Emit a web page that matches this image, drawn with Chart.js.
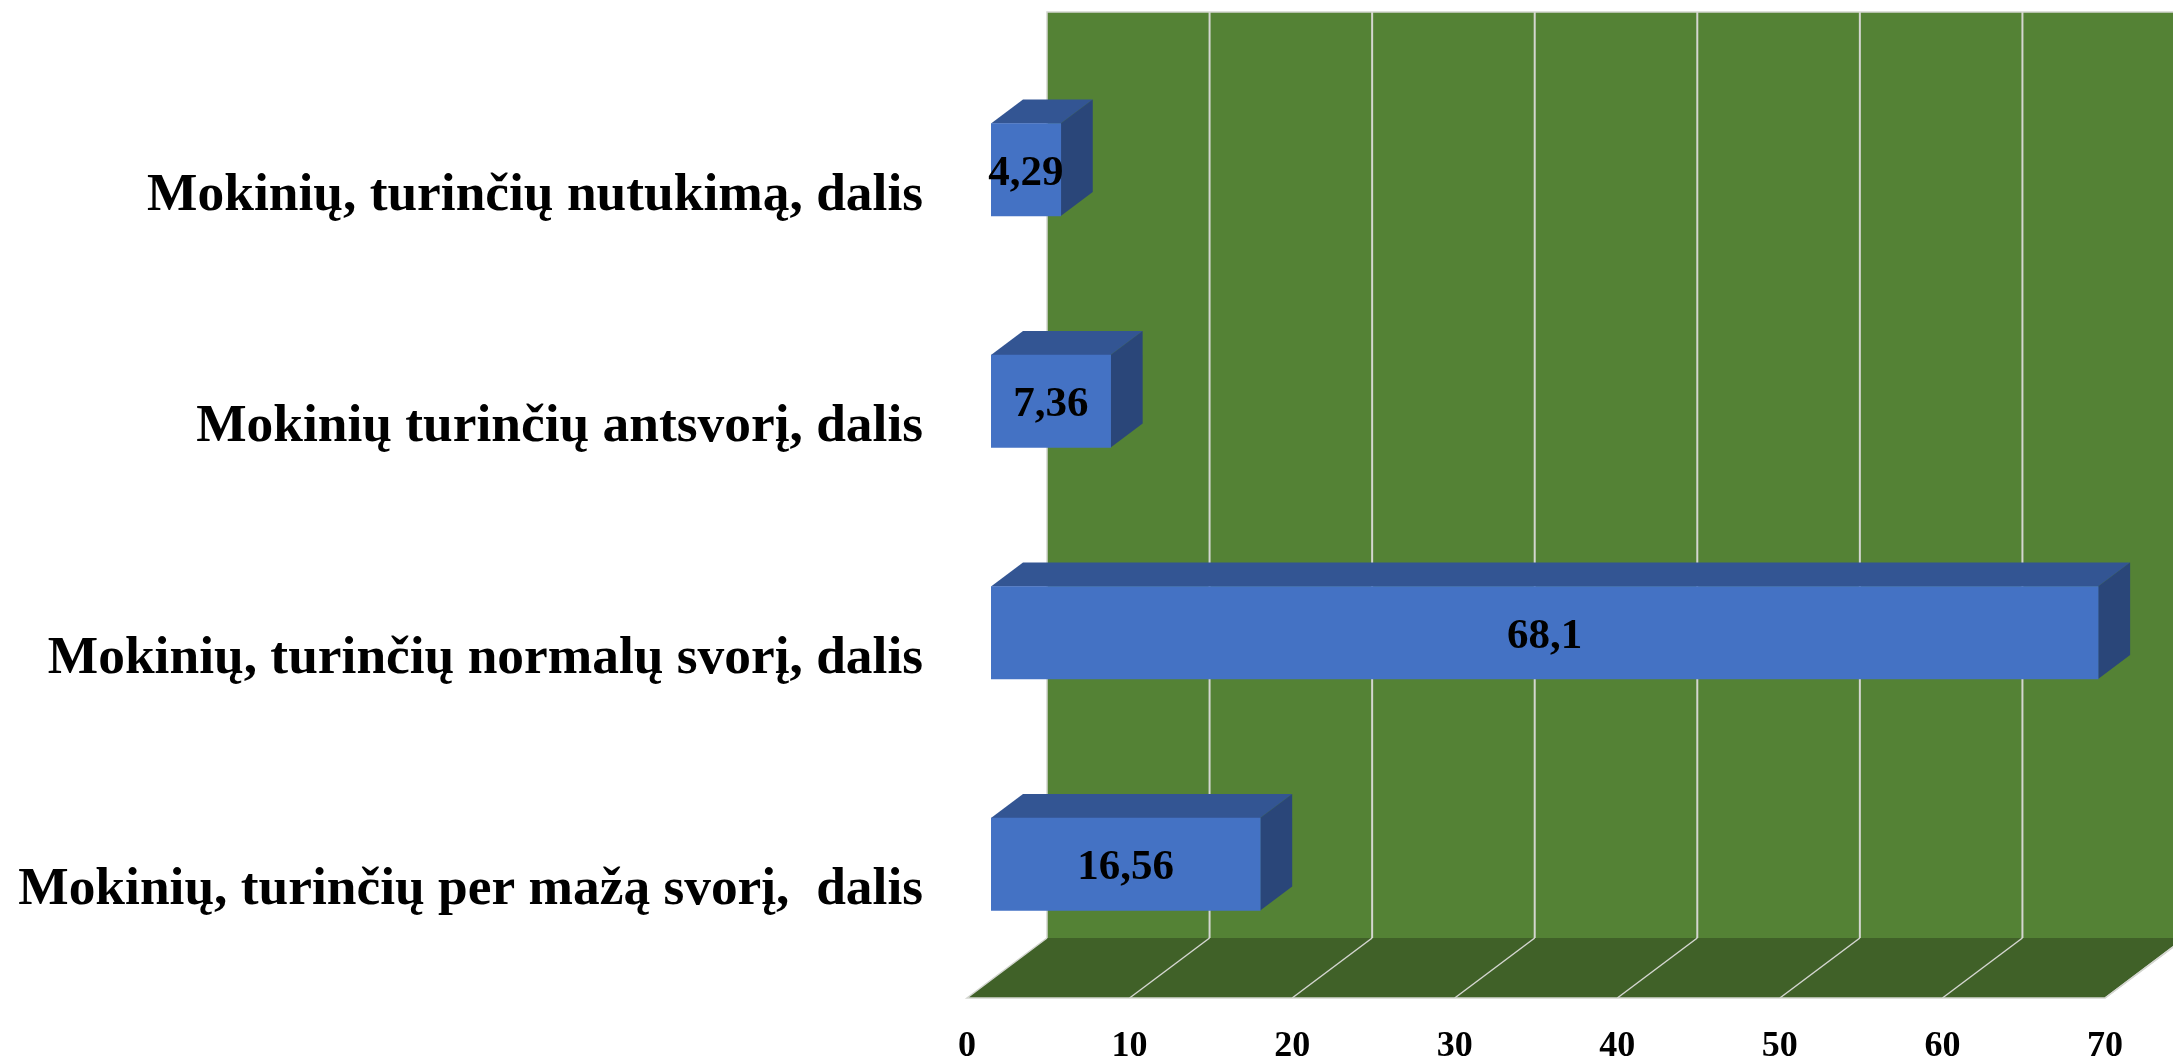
<!DOCTYPE html>
<html lang="lt">
<head>
<meta charset="utf-8">
<title>Mokinių svoris</title>
<script src="https://cdn.jsdelivr.net/npm/chart.js@4"></script>
<style>
  html, body { margin: 0; padding: 0; background: #fff; overflow: hidden; }
  #wrap { width: 2173px; height: 1059px; position: relative; }
</style>
</head>
<body>
<div id="wrap"><canvas id="svorisChart"></canvas></div>
<script>
const categories = [
  "Mokinių, turinčių nutukimą, dalis",
  "Mokinių turinčių antsvorį, dalis",
  "Mokinių, turinčių normalų svorį, dalis",
  "Mokinių, turinčių per mažą svorį,  dalis",
];
const values = [4.29, 7.36, 68.1, 16.56];
const xMin = 0;
const xMax = 70;
const xStep = 10;

// Spalvos
const wallColor = "#548235";
const floorColor = "#406128";
const gridColor = "#d4d6d0";
const barFront = "#4472c4";
const barTop = "#335593";
const barSide = "#2a4679";

// Imitacija 3D: grindys ir siena, stulpelių gylis
const floorShiftX = 24; // kiek grindų priekis į kairę nuo stulpelio pradžios
const floorFrontY = 998;
const floorBackY = 938;
const wallTopY = 12;
const floorDepthX = 80;
const barDepthX = 32;
const barDepthY = 24;

// Ašių kraštų paraštės trukdo tiksliai išdėstyti braižymo sritį
function noScalePadding(scale) {
  scale.paddingLeft = 0;
  scale.paddingRight = 0;
  scale.paddingTop = 0;
  scale.paddingBottom = 0;
}

const fake3d = {
  id: "fake3d",
  beforeDatasetsDraw(chart) {
    const ctx = chart.ctx;
    const x = chart.scales.x;
    const front0 = x.getPixelForValue(xMin) - floorShiftX;
    const frontEnd = x.getPixelForValue(xMax) - floorShiftX;
    const back0 = front0 + floorDepthX;
    const backEnd = frontEnd + floorDepthX;

    ctx.save();
    // siena
    ctx.fillStyle = wallColor;
    ctx.fillRect(back0, wallTopY, backEnd - back0, floorBackY - wallTopY);
    ctx.strokeStyle = gridColor;
    ctx.lineWidth = 1.5;
    ctx.beginPath();
    ctx.moveTo(back0, floorBackY);
    ctx.lineTo(back0, wallTopY);
    ctx.lineTo(backEnd, wallTopY);
    ctx.stroke();

    // grindys
    ctx.fillStyle = floorColor;
    ctx.beginPath();
    ctx.moveTo(back0, floorBackY);
    ctx.lineTo(backEnd, floorBackY);
    ctx.lineTo(frontEnd, floorFrontY);
    ctx.lineTo(front0, floorFrontY);
    ctx.closePath();
    ctx.fill();
    ctx.beginPath();
    ctx.moveTo(backEnd, floorBackY);
    ctx.lineTo(frontEnd, floorFrontY);
    ctx.lineTo(front0, floorFrontY);
    ctx.lineTo(back0, floorBackY);
    ctx.stroke();

    // tinklelis
    x.ticks.forEach(function (tick) {
      if (tick.value === xMin) return;
      const px = x.getPixelForValue(tick.value) - floorShiftX;
      ctx.lineWidth = 1.5;
      ctx.beginPath();
      ctx.moveTo(px, floorFrontY);
      ctx.lineTo(px + floorDepthX, floorBackY);
      ctx.stroke();
      ctx.lineWidth = 2;
      ctx.beginPath();
      ctx.moveTo(px + floorDepthX, floorBackY);
      ctx.lineTo(px + floorDepthX, wallTopY);
      ctx.stroke();
    });

    // stulpelių viršus ir šonas
    chart.getDatasetMeta(0).data.forEach(function (bar) {
      const top = bar.y - bar.height / 2;
      const bottom = bar.y + bar.height / 2;
      ctx.fillStyle = barTop;
      ctx.beginPath();
      ctx.moveTo(bar.base, top);
      ctx.lineTo(bar.base + barDepthX, top - barDepthY);
      ctx.lineTo(bar.x + barDepthX, top - barDepthY);
      ctx.lineTo(bar.x, top);
      ctx.closePath();
      ctx.fill();
      ctx.fillStyle = barSide;
      ctx.beginPath();
      ctx.moveTo(bar.x, top);
      ctx.lineTo(bar.x + barDepthX, top - barDepthY);
      ctx.lineTo(bar.x + barDepthX, bottom - barDepthY);
      ctx.lineTo(bar.x, bottom);
      ctx.closePath();
      ctx.fill();
    });
    ctx.restore();
  },
  afterDatasetsDraw(chart) {
    // reikšmės ant stulpelių
    const ctx = chart.ctx;
    ctx.save();
    ctx.fillStyle = "#000";
    ctx.font = "bold 43px 'Liberation Serif'";
    ctx.textAlign = "center";
    ctx.textBaseline = "middle";
    chart.getDatasetMeta(0).data.forEach(function (bar, i) {
      const text = String(values[i]).replace(".", ",");
      ctx.fillText(text, (bar.base + bar.x) / 2, bar.y + 4);
    });
    ctx.restore();
  },
};

document.addEventListener("DOMContentLoaded", function () {
  const ctx = document.getElementById("svorisChart").getContext("2d");
  new Chart(ctx, {
    type: "bar",
    data: {
      labels: categories,
      datasets: [
        {
          data: values,
          backgroundColor: barFront,
          barThickness: 92.5,
          categoryPercentage: 1,
        },
      ],
    },
    plugins: [fake3d],
    options: {
      indexAxis: "y",
      responsive: true,
      maintainAspectRatio: false,
      animation: false,
      layout: { padding: { top: 54, right: 44, left: 0, bottom: 0 } },
      plugins: { legend: { display: false }, tooltip: { enabled: false } },
      scales: {
        x: {
          min: xMin,
          max: xMax,
          grid: { display: false },
          border: { display: false },
          afterFit: function (scale) {
            scale.height = 79;
            noScalePadding(scale);
          },
          ticks: {
            stepSize: xStep,
            autoSkip: false,
            maxRotation: 0,
            labelOffset: -floorShiftX,
            padding: 37,
            color: "#000",
            font: { family: "Liberation Serif", weight: "bold", size: 36 },
          },
        },
        y: {
          grid: { display: false },
          border: { display: false },
          afterFit: function (scale) {
            scale.width = 991;
            noScalePadding(scale);
          },
          ticks: {
            autoSkip: false,
            labelOffset: 26,
            padding: 60,
            color: "#000",
            font: { family: "Liberation Serif", weight: "bold", size: 53.4 },
          },
        },
      },
    },
  });
});
</script>
</body>
</html>
